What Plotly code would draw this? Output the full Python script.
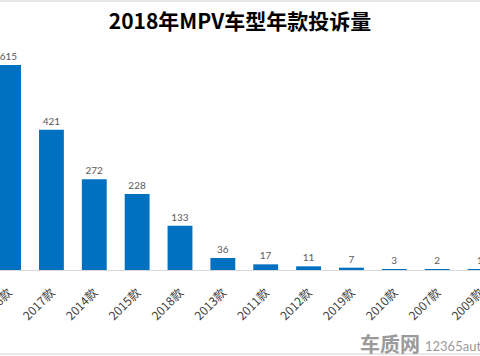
import plotly.graph_objects as go

categories = ["2016款", "2017款", "2014款", "2015款", "2018款", "2013款",
              "2011款", "2012款", "2019款", "2010款", "2007款", "2009款"]
values = [615, 421, 272, 228, 133, 36, 17, 11, 7, 3, 2, 1]
title_text = "2018年MPV车型年款投诉量"

W, H = 480, 356
top, bottom_px = 40, 270
plot_h = bottom_px - top

fig = go.Figure(go.Bar(
    x=list(range(len(categories))),
    y=values,
    text=[str(v) for v in values],
    textposition="outside",
    textfont=dict(size=10, color="#595959", family="Lato, Noto Sans CJK SC"),
    marker=dict(color="#0070C0", line=dict(width=0)),
    width=0.58,
    cliponaxis=False,
))

fig.update_layout(
    width=W, height=H,
    margin=dict(l=0, r=0, t=top, b=H - bottom_px, autoexpand=False),
    paper_bgcolor="white", plot_bgcolor="white",
    showlegend=False,
    title=dict(text="<b>" + title_text + "</b>", x=0.5, xanchor="center",
               y=1 - 22 / H, yanchor="middle",
               font=dict(size=21, color="#000000", family="Noto Sans CJK SC"),
               automargin=False),
    xaxis=dict(
        range=[-0.2, 11.0],
        tickmode="array",
        tickvals=list(range(len(categories))),
        ticktext=categories,
        tickangle=-45,
        tickfont=dict(size=12, color="#404040", family="Noto Sans CJK SC"),
        showline=True, linecolor="#D9D9D9", linewidth=1,
        showgrid=False, zeroline=False, ticks="",
        ticklabelstandoff=10,
        automargin=False,
        ticklabeloverflow="allow",
    ),
    yaxis=dict(
        range=[0, 615 * plot_h / 205],
        visible=False, showgrid=False, zeroline=False,
        automargin=False,
    ),
    bargap=0.4,
)

# frame lines at top and bottom of the image
for py in (1, 354):
    fig.add_shape(type="line", xref="paper", yref="paper",
                  x0=0, x1=1, y0=(bottom_px - py) / plot_h, y1=(bottom_px - py) / plot_h,
                  line=dict(color="#D0D0D0", width=1))

# watermark
fig.add_annotation(text="<b>车质网</b>", xref="paper", yref="paper",
                   x=390 / W, xanchor="center", y=(bottom_px - 343) / plot_h,
                   yanchor="middle", showarrow=False,
                   font=dict(size=20, color="#9A9A9A", family="Noto Sans CJK SC"))
fig.add_annotation(text="12365auto", xref="paper", yref="paper",
                   x=423 / W, xanchor="left", y=(bottom_px - 346) / plot_h,
                   yanchor="middle", showarrow=False,
                   font=dict(size=13, color="#9A9A9A", family="Lato"))

fig.write_html(
    "out.html",
    config={"displayModeBar": False},
    post_script="document.body.style.margin='0';document.body.style.overflow='hidden';",
)
